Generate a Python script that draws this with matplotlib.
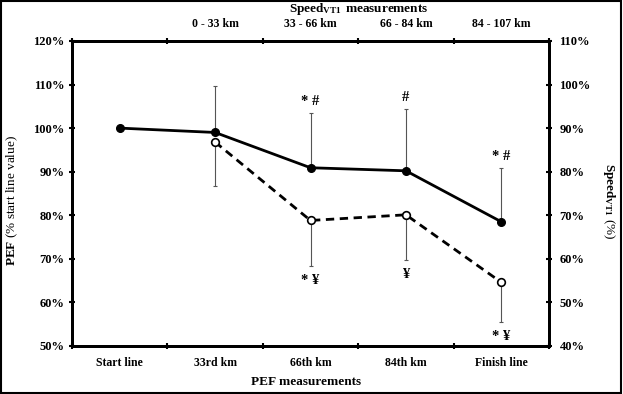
import numpy as np
import matplotlib
matplotlib.use("Agg")
import matplotlib.pyplot as plt
from matplotlib.ticker import PercentFormatter
from matplotlib.patches import Rectangle

plt.rcParams["font.family"] = "Liberation Serif"
plt.rcParams["mathtext.fontset"] = "custom"
plt.rcParams["mathtext.rm"] = "Liberation Serif"
plt.rcParams["mathtext.bf"] = "Liberation Serif:bold"

categories = ["Start line", "33rd km", "66th km", "84th km", "Finish line"]
segments = ["0 - 33 km", "33 - 66 km", "66 - 84 km", "84 - 107 km"]

pef = [100.0, 99.0, 90.9, 90.2, 78.5]
pef_sd = [0.0, 10.6, 12.5, 14.2, 12.3]
pef_marks = ["", "", "* #", "#", "* #"]

speed = [86.8, 68.8, 70.1, 54.6]
speed_sd = [10.0, 10.4, 10.3, 9.2]
speed_marks = ["", "* ¥", "¥", "* ¥"]

fig = plt.figure(figsize=(6.23, 3.94), dpi=100)
ax = fig.add_axes([0.1156, 0.122, 0.7656, 0.774])
ax2 = ax.twinx()
ax3 = ax.twiny()

x = np.arange(len(categories)) + 0.5
xs = x[1:]

# PEF, solid line, error bars upward
ax.errorbar(x, pef, yerr=[np.zeros(len(pef)), pef_sd], fmt="none",
            ecolor="#555555", elinewidth=0.8, capsize=1.5, capthick=0.8)
ax.plot(x, pef, color="black", lw=2, marker="o", ms=5.5, mfc="black")
for xi, yi, s, m in zip(x, pef, pef_sd, pef_marks):
    if m:
        ax.text(xi, yi + s + 1.2, m, ha="center", va="bottom",
                fontsize=10.5, fontweight="bold")

# Speed VT1, dashed line, error bars downward
ax2.errorbar(xs, speed, yerr=[speed_sd, np.zeros(len(speed))], fmt="none",
             ecolor="#555555", elinewidth=0.8, capsize=1.5, capthick=0.8)
ax2.plot(xs, speed, color="black", lw=2, ls=(0, (3, 2)), marker="o", ms=5.5,
         mfc="white", mec="black", mew=1.2)
for xi, yi, s, m in zip(xs, speed, speed_sd, speed_marks):
    if m:
        ax2.text(xi, yi - s - 1.8, m, ha="center", va="top",
                 fontsize=10.5, fontweight="bold")

ax.set_xlim(0, 5)
ax.set_ylim(50, 120)
ax2.set_ylim(40, 110)
ax3.set_xlim(0, 5)

for a in (ax, ax2, ax3):
    for sp in a.spines.values():
        sp.set_linewidth(2)

ax.set_yticks(np.arange(50, 121, 10))
ax2.set_yticks(np.arange(40, 111, 10))
ax.yaxis.set_major_formatter(PercentFormatter(decimals=0))
ax2.yaxis.set_major_formatter(PercentFormatter(decimals=0))

ax.set_xticks(range(6))
ax.set_xticklabels([])
ax.set_xticks(x, minor=True)
ax.set_xticklabels(categories, minor=True)
ax.tick_params(axis="x", which="minor", length=0, pad=8)
ax.tick_params(axis="x", which="major", direction="inout", length=5, width=1.5)

ax3.set_xticks(range(6))
ax3.set_xticklabels([])
ax3.set_xticks(xs, minor=True)
ax3.set_xticklabels(segments, minor=True)
ax3.tick_params(axis="x", which="minor", length=0, pad=8)
ax3.tick_params(axis="x", which="major", direction="inout", length=5, width=1.5)

ax.tick_params(axis="y", direction="inout", length=5, width=1.5, pad=3)
ax2.tick_params(axis="y", direction="inout", length=5, width=1.5, pad=5)

for a in (ax, ax2, ax3):
    for lbl in a.get_xticklabels(minor=True):
        lbl.set_fontweight("bold")
        lbl.set_fontsize(8.5)
    for lbl in a.get_yticklabels():
        lbl.set_fontweight("bold")
        lbl.set_fontsize(9)

fig.text(0.02, 0.49, r"$\mathbf{PEF}$ (% start line value)", rotation=90,
         ha="center", va="center", fontsize=9.5)
fig.text(0.978, 0.49, r"$\mathbf{Speed_{VT1}}$ (%)", rotation=270,
         ha="center", va="center", fontsize=9.5)
fig.text(0.575, 0.978, r"$\mathbf{Speed_{VT1}\ measurements}$",
         ha="center", va="center", fontsize=9.5)
fig.text(0.492, 0.03, "PEF measurements", ha="center", va="center",
         fontsize=9.5, fontweight="bold")

fig.patches.append(Rectangle((0.002, 0.003), 0.995, 0.994, transform=fig.transFigure,
                             fill=False, edgecolor="black", lw=1.5))

fig.savefig("out.png", dpi=100)
